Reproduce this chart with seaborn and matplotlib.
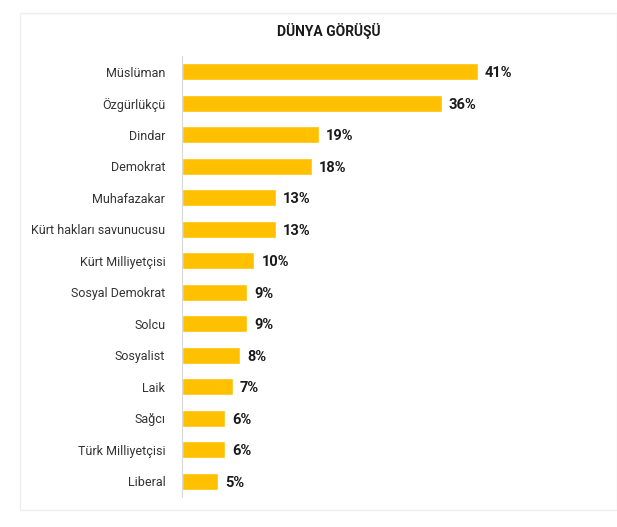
import matplotlib
matplotlib.use("Agg")
import matplotlib.pyplot as plt
import seaborn as sns
import pandas as pd
from matplotlib.patches import Rectangle

categories = ["Müslüman", "Özgürlükçü", "Dindar", "Demokrat", "Muhafazakar",
              "Kürt hakları savunucusu", "Kürt Milliyetçisi", "Sosyal Demokrat",
              "Solcu", "Sosyalist", "Laik", "Sağcı", "Türk Milliyetçisi", "Liberal"]
values = [41, 36, 19, 18, 13, 13, 10, 9, 9, 8, 7, 6, 6, 5]
title = "DÜNYA GÖRÜŞÜ"

df = pd.DataFrame({"cat": categories, "val": values})

sns.set_theme(style="white")
plt.rcParams['font.family'] = ['Roboto', 'DejaVu Sans']

fig = plt.figure(figsize=(6.17, 5.27), dpi=100)
fig.patch.set_facecolor("white")

# card border
card = Rectangle((20/617, 1 - 510/527), (617-20)/617, (510-13)/527,
                 transform=fig.transFigure, facecolor="white",
                 edgecolor="#eeeeee", linewidth=1.0, zorder=-5)
fig.patches.append(card)

ax = fig.add_axes([182/617, 1 - 497/527, (586-182)/617, (497-56)/527])
ax.set_zorder(2)
ax.set_facecolor("none")
sns.barplot(data=df, y="cat", x="val", color="#FFC000", saturation=1,
            width=0.54, ax=ax, orient="h")

ax.set_xlim(0, 56)
ax.set_xlabel("")
ax.set_ylabel("")
ax.set_xticks([])
for s in ["top", "right", "bottom"]:
    ax.spines[s].set_visible(False)
ax.spines["left"].set_color("#d9d9d9")
ax.spines["left"].set_linewidth(0.8)
ax.tick_params(axis="y", length=0, pad=12, labelsize=9, labelcolor="#333333")
for lbl in ax.get_yticklabels():
    lbl.set_verticalalignment("center_baseline")

for i, v in enumerate(values):
    ax.text(v + 1.0, i, f"{v}%", va="center_baseline", ha="left",
            fontsize=10.5, fontweight="bold", color="#1a1a1a")

fig.text(329/617, 1 - 31/527, title, ha="center", va="center",
         fontsize=10, fontweight="bold", color="#1a1a1a", zorder=3)

fig.savefig("out.png", dpi=100)
